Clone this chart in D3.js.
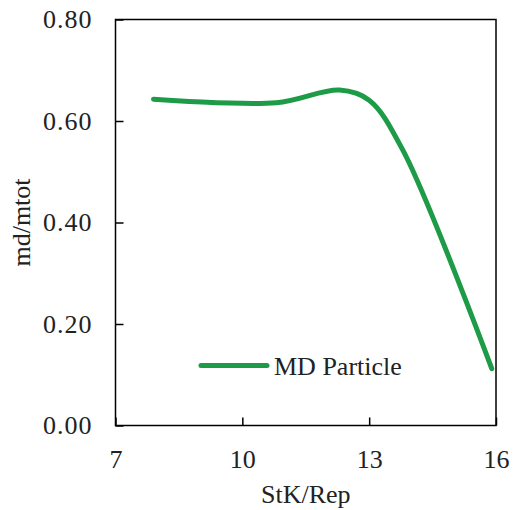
<!DOCTYPE html>
<html><head><meta charset="utf-8">
<script src="https://cdn.jsdelivr.net/npm/d3@7"></script>
<style>
html,body{margin:0;padding:0;background:#fff;}
svg{display:block;}
text{font-family:"Liberation Serif","Times New Roman",serif;fill:#222;}
</style></head>
<body>
<svg id="chart" width="515" height="510"></svg>
<script>
const xValues = [7.9, 10.8, 12.3, 13.0, 13.8, 15.9];
const yValues = [0.643, 0.636, 0.661, 0.641, 0.542, 0.112];
const xTicks = [7, 10, 13, 16];
const yTicks = [0, 0.2, 0.4, 0.6, 0.8];
const seriesName = "MD Particle";
const xTitle = "StK/Rep";
const yTitle = "md/mtot";

const svg = d3.select("#chart");
const L = 115.5, R = 496, T = 19.5, B = 425.5;
const x = d3.scaleLinear().domain([7, 16]).range([L, R]);
const y = d3.scaleLinear().domain([0, 0.8]).range([B, T]);

svg.append("rect").attr("x", L).attr("y", T).attr("width", R - L).attr("height", B - T)
  .attr("fill", "none").attr("stroke", "#000").attr("stroke-width", 1.5);

const xAxis = svg.append("g").attr("transform", `translate(0,${B})`)
  .call(d3.axisBottom(x).tickValues(xTicks).tickSizeInner(-8).tickSizeOuter(0).tickPadding(24).tickFormat(d3.format("d")));
const yAxis = svg.append("g").attr("transform", `translate(${L},0)`)
  .call(d3.axisLeft(y).tickValues(yTicks).tickSizeInner(-8).tickSizeOuter(0).tickPadding(23).tickFormat(d3.format(".2f")));
[xAxis, yAxis].forEach(g => {
  g.select(".domain").remove();
  g.selectAll(".tick line").attr("stroke", "#000").attr("stroke-width", 1.5);
  g.selectAll(".tick text").attr("font-size", 26).attr("font-family", "Liberation Serif").attr("fill", "#222");
});
yAxis.selectAll(".tick text").attr("letter-spacing", 1);

const data = xValues.map((v, i) => [v, yValues[i]]);
svg.append("path").datum(data)
  .attr("fill", "none").attr("stroke", "#1E9B47").attr("stroke-width", 5)
  .attr("stroke-linecap", "round")
  .attr("d", d3.line().x(d => x(d[0])).y(d => y(d[1])).curve(d3.curveCatmullRom.alpha(0.5)));

svg.append("line").attr("x1", 201).attr("x2", 267).attr("y1", 365.5).attr("y2", 365.5)
  .attr("stroke", "#1E9B47").attr("stroke-width", 5).attr("stroke-linecap", "round");
svg.append("text").attr("x", 274).attr("y", 375).attr("font-size", 26).text(seriesName);

svg.append("text").attr("x", (L + R) / 2).attr("y", 503).attr("text-anchor", "middle")
  .attr("font-size", 26).text(xTitle);
svg.append("text").attr("transform", `translate(30,${(T + B) / 2}) rotate(-90)`)
  .attr("text-anchor", "middle").attr("font-size", 26).text(yTitle);
</script>
</body></html>
